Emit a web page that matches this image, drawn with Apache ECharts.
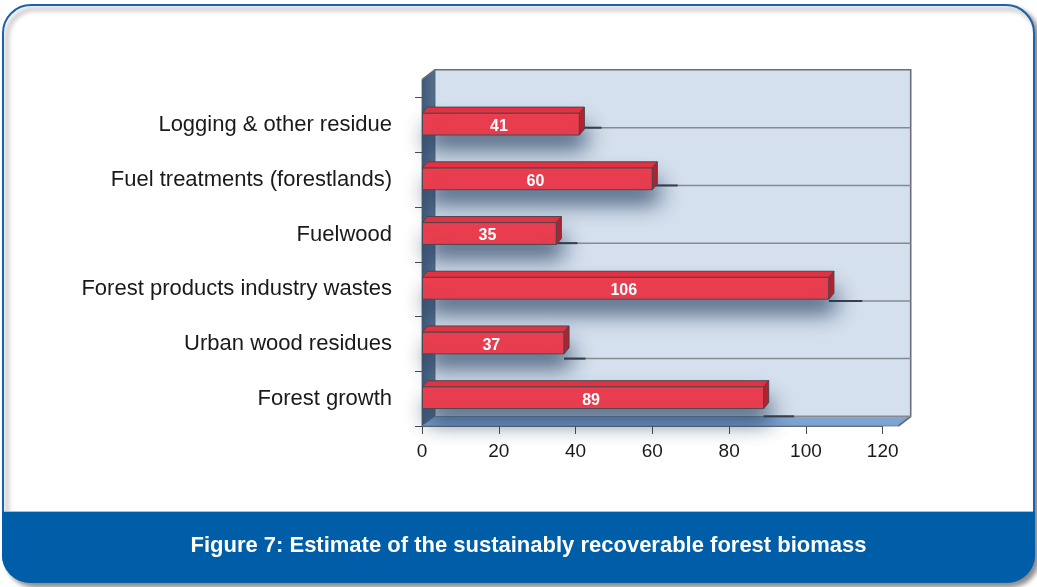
<!DOCTYPE html>
<html>
<head>
<meta charset="utf-8">
<script src="https://cdn.jsdelivr.net/npm/echarts@6/dist/echarts.min.js"></script>
<style>
html,body{margin:0;padding:0;background:#ffffff;}
#c{width:1037px;height:587px;}
</style>
</head>
<body>
<div id="c"></div>
<script>
// ---- data ----
const categories = [
  'Logging & other residue',
  'Fuel treatments (forestlands)',
  'Fuelwood',
  'Forest products industry wastes',
  'Urban wood residues',
  'Forest growth'
];
const values = [41, 60, 35, 106, 37, 89];
const xMin = 0, xMax = 120, xStep = 20;
const captionText = 'Figure 7: Estimate of the sustainably recoverable forest biomass';

// ---- styling ----
const FONT = "'Liberation Sans', Arial, Helvetica, sans-serif";
const DX = 13, DY = 10;          // wall depth
const BDX = 5, BDY = 6;          // bar depth

const chart = echarts.init(document.getElementById('c'), null, {renderer: 'canvas'});

function renderWalls(params, api) {
  const cs = params.coordSys;
  const L = cs.x, T = cs.y, R = cs.x + cs.width, B = cs.y + cs.height;
  const backL = L + DX, backT = T - 28, backR = R + 28, backB = B - DY + 0.5;
  return {
    type: 'group',
    children: [
      { type: 'rect', shape: {x: backL, y: backT, width: backR - backL, height: backB - backT},
        style: {fill: '#d4e0ed'} },
      { type: 'polygon', shape: {points: [[L, T - 18], [backL, backT], [backL, backB], [L, B]]},
        style: {fill: {type: 'linear', x: 0, y: 0, x2: 1, y2: 0,
          colorStops: [{offset: 0, color: '#3d5879'}, {offset: 1, color: '#56718f'}]},
          stroke: '#4d5866', lineWidth: 0.8} },
      { type: 'polygon', shape: {points: [[L, B], [R + 15.6, B], [backR, backB], [backL, backB]]},
        style: {fill: {type: 'linear', x: 0, y: 0, x2: 0, y2: 1,
          colorStops: [{offset: 0, color: '#8aa6c8'}, {offset: 0.45, color: '#7da4d3'}, {offset: 1, color: '#78a1d4'}]},
          stroke: '#6b7a8c', lineWidth: 0.8} },
      { type: 'polyline', shape: {points: [[L, T - 18], [backL, backT], [backR, backT], [backR, backB], [R + 15.6, B]]},
        style: {stroke: '#6a6e74', lineWidth: 1.6, fill: null} }
    ]
  };
}

function renderBar(params, api) {
  const v = api.value(0), i = api.value(1);
  const cs = params.coordSys;
  const end = api.coord([v, i]);
  const start = api.coord([0, i]);
  const band = api.size([0, 1])[1];
  const h = band * 0.4;
  const cy = end[1] - 1;
  const x0 = start[0] + 0.5, x1 = end[0];
  const yT = cy - h / 2, yB = cy + h / 2;
  const lineY = cs.y + band * (i + 0.52) * 1.055;
  const backR = cs.x + cs.width + 28;
  const darkEnd = x1 + BDX + 10 + 0.045 * (x1 - x0);
  return {
    type: 'group',
    children: [
      { type: 'line', shape: {x1: x1, y1: lineY, x2: backR, y2: lineY},
        style: {stroke: '#868b92', lineWidth: 1.5} },
      { type: 'line', shape: {x1: x1, y1: lineY, x2: darkEnd, y2: lineY},
        style: {stroke: '#3a3e46', lineWidth: 2} },
      { type: 'rect', shape: {x: x0, y: yT, width: x1 - x0, height: h},
        style: {fill: '#ef3e4f', stroke: '#4a4750', lineWidth: 1,
          shadowBlur: 22, shadowColor: 'rgba(30,55,90,0.8)', shadowOffsetX: 6, shadowOffsetY: 13} },
      { type: 'polygon', shape: {points: [[x0, yT], [x0 + BDX, yT - BDY], [x1 + BDX, yT - BDY], [x1, yT]]},
        style: {fill: '#e5313f', stroke: '#4a4750', lineWidth: 1} },
      { type: 'polygon', shape: {points: [[x1, yT], [x1 + BDX, yT - BDY], [x1 + BDX, yB - BDY], [x1, yB]]},
        style: {fill: '#b5202d', stroke: '#4a4750', lineWidth: 1} },
      { type: 'text', style: {x: (x0 + x1) / 2 - 2, y: cy + 2.5, text: String(v), fill: '#ffffff',
          font: 'bold 16px ' + FONT, textAlign: 'center', textVerticalAlign: 'middle'} }
    ]
  };
}

const option = {
  animation: false,
  backgroundColor: '#ffffff',
  graphic: [
    { type: 'rect', z: -10, shape: {x: 3, y: 5, width: 1031, height: 577, r: 28},
      style: {fill: '#ffffff', stroke: '#1c63ad', lineWidth: 2,
        shadowBlur: 5, shadowOffsetX: 4, shadowOffsetY: 4, shadowColor: 'rgba(0,0,0,0.45)'} },
    { type: 'rect', z: -9, shape: {x: 2, y: 511.5, width: 1033, height: 71, r: [0, 0, 27, 27]},
      style: {fill: '#005ea8'} },
    { type: 'line', z: -9, shape: {x1: 4, y1: 511.5, x2: 1033, y2: 511.5},
      style: {stroke: '#9fc0de', lineWidth: 1} },
    { type: 'text', z: -8, style: {x: 528.5, y: 546, text: captionText, fill: '#ffffff',
        font: 'bold 22px ' + FONT, textAlign: 'center', textVerticalAlign: 'middle'} }
  ],
  grid: {left: 422, right: 154.3, top: 97.7, bottom: 161, containLabel: false},
  xAxis: {
    type: 'value', min: xMin, max: xMax, interval: xStep,
    axisLine: {show: true, lineStyle: {color: '#5f6368', width: 1}},
    axisTick: {show: true, length: 8, lineStyle: {color: '#4a4a4a', width: 1}},
    axisLabel: {color: '#1a1a1a', fontSize: 19, fontFamily: FONT, margin: 16},
    splitLine: {show: false}
  },
  yAxis: {
    type: 'category', data: categories, inverse: true,
    axisLine: {show: true, lineStyle: {color: '#4d5866', width: 1}},
    axisTick: {show: true, length: 7, alignWithLabel: false, lineStyle: {color: '#4a4a4a', width: 1}},
    axisLabel: {color: '#1a1a1a', fontSize: 22, fontFamily: FONT, margin: 30},
    splitLine: {show: false}
  },
  series: [
    { type: 'custom', name: 'walls', silent: true, clip: false, z: 1,
      renderItem: renderWalls, data: [[0, 0]], encode: {x: 0, y: 1} },
    { type: 'custom', name: 'bars', silent: true, clip: false, z: 3,
      renderItem: renderBar, data: values.map((v, i) => [v, i]), encode: {x: 0, y: 1} }
  ]
};
chart.setOption(option);
</script>
</body>
</html>
